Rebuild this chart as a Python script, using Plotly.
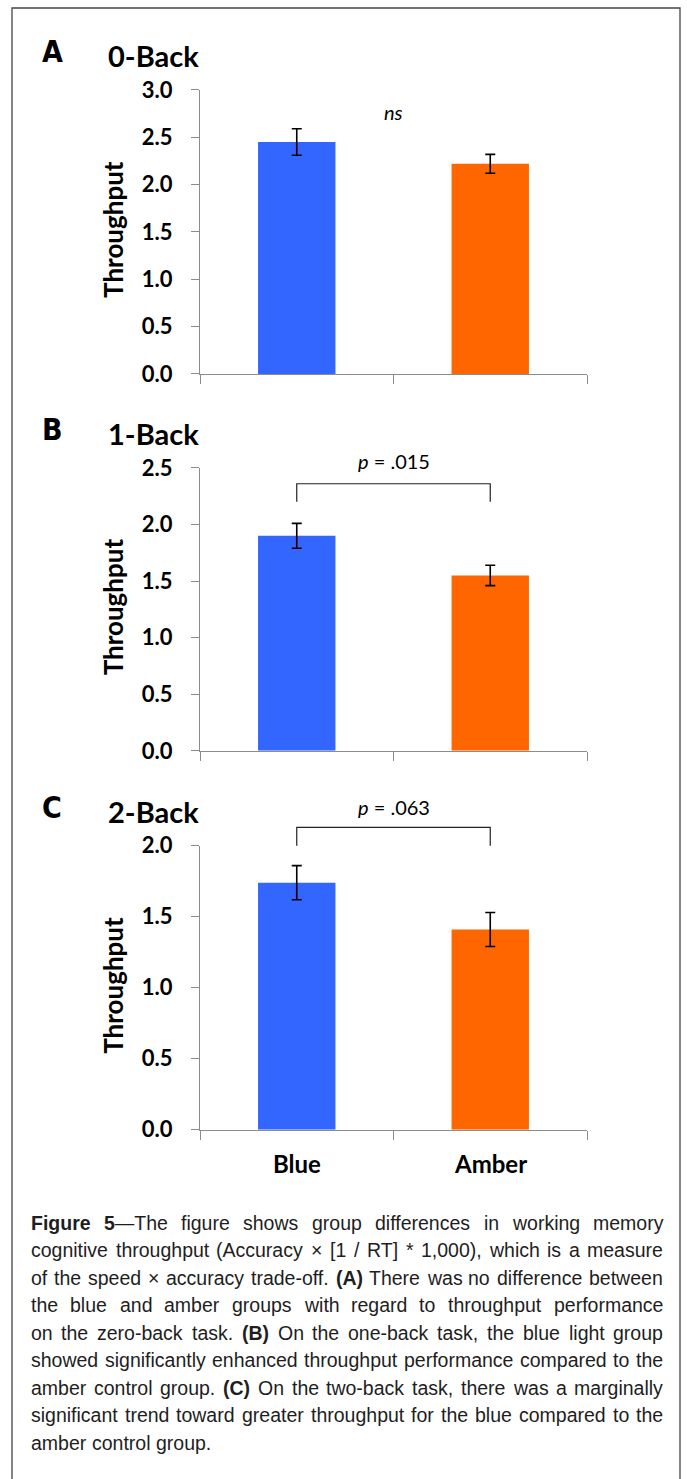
import plotly.graph_objects as go

groups = ["Blue", "Amber"]
bar_colors = ["#3366FF", "#FF6600"]

panels = ["A", "B", "C"]
titles = ["0-Back", "1-Back", "2-Back"]
y_max = [3.0, 2.5, 2.0]

means_0back = [2.45, 2.22]
err_0back = [0.14, 0.10]
means_1back = [1.90, 1.55]
err_1back = [0.11, 0.09]
means_2back = [1.74, 1.41]
err_2back = [0.12, 0.12]

sig_labels = ["<i>ns</i>", "<i>p</i> = .015", "<i>p</i> = .063"]
sig_label_y = [2.77, 2.56, 2.27]
bracket_top = [None, 2.36, 2.13]
bracket_foot = [None, 2.20, 2.00]

caption_lines = [
    "<b>Figure 5</b>—The figure shows group differences in working memory",
    "cognitive throughput (Accuracy × [1 / RT] * 1,000), which is a measure",
    "of the speed × accuracy trade-off. <b>(A)</b> There was no difference between",
    "the blue and amber groups with regard to throughput performance",
    "on the zero-back task. <b>(B)</b> On the one-back task, the blue light group",
    "showed significantly enhanced throughput performance compared to the",
    "amber control group. <b>(C)</b> On the two-back task, there was a marginally",
    "significant trend toward greater throughput for the blue compared to the",
    "amber control group.",
]

W, H = 687, 1479
panel_px = [(89, 373), (467, 750), (845, 1129)]
x_px = (200, 587)

# the photographed page shows rows slightly compressed with an offset; compensate
SY, OY = 0.982, 13.0


def fy(p):
    return (p - OY) / SY


def px_x(p):
    return p / W


def px_y(p):
    return 1 - fy(p) / H


means = [means_0back, means_1back, means_2back]
errs = [err_0back, err_1back, err_2back]

fig = go.Figure()
FONT_BOLD = "Lato, Carlito, 'Open Sans', sans-serif"
NARROW = "'Liberation Sans Narrow', 'Arial Narrow', 'DejaVu Sans Condensed', 'Liberation Sans', sans-serif"
CAPTION = "'Liberation Sans', Arial, sans-serif"
anns = []
shapes = []

for i in range(3):
    xa = "x" if i == 0 else f"x{i+1}"
    ya = "y" if i == 0 else f"y{i+1}"
    fig.add_trace(go.Bar(
        x=[0, 1], y=means[i],
        marker=dict(color=bar_colors, line=dict(width=0)),
        error_y=dict(type="data", array=errs[i], color="black", thickness=1.6, width=5),
        xaxis=xa, yaxis=ya, showlegend=False, width=0.4,
    ))
    if bracket_top[i] is not None:
        xs = [0.25, 0.25, 0.75, 0.75]
        ys = [bracket_foot[i], bracket_top[i], bracket_top[i], bracket_foot[i]]
        path = "M " + " L ".join(f"{x},{y / y_max[i]}" for x, y in zip(xs, ys))
        shapes.append(dict(type="path", path=path,
                           xref=f"{xa} domain", yref=f"{ya} domain",
                           line=dict(color="#222222", width=1.2)))
    top, bot = panel_px[i]
    xkey = "xaxis" if i == 0 else f"xaxis{i+1}"
    ykey = "yaxis" if i == 0 else f"yaxis{i+1}"
    fig.update_layout(**{
        xkey: dict(
            domain=[px_x(x_px[0]), px_x(x_px[1])], range=[-0.5, 1.5],
            anchor=ya, showgrid=False, zeroline=False,
            showline=True, linecolor="#8c8c8c", linewidth=1.2,
            tickmode="array", tickvals=[-0.5, 0.5, 1.5], ticktext=["", "", ""],
            ticks="outside", ticklen=9, tickcolor="#8c8c8c", tickwidth=1.2,
            fixedrange=True,
        ),
        ykey: dict(
            domain=[px_y(bot), px_y(top)], range=[0, y_max[i]],
            anchor=xa, showgrid=False, zeroline=False,
            showline=True, linecolor="#8c8c8c", linewidth=1.2,
            dtick=0.5, tick0=0, tickformat=".1f",
            ticks="outside", ticklen=8, tickcolor="#8c8c8c", tickwidth=1.2,
            tickfont=dict(family=FONT_BOLD, size=22, color="black", weight="bold"),
            ticklabelstandoff=14,
            fixedrange=True,
        ),
    })
    anns.append(dict(
        text="<b>Throughput</b>", textangle=-90, xref="paper", yref="paper",
        x=px_x(113), y=px_y((top + bot) / 2 - 2), showarrow=False,
        font=dict(family=FONT_BOLD, size=26, color="black"),
        xanchor="center", yanchor="middle",
    ))
    anns.append(dict(
        text="<b>" + panels[i] + "</b>", xref="paper", yref="paper",
        x=px_x(52), y=px_y(top - 38), showarrow=False,
        font=dict(family=NARROW, size=30, color="black"),
        xanchor="center", yanchor="middle",
    ))
    anns.append(dict(
        text="<b>" + titles[i] + "</b>", xref="paper", yref="paper",
        x=px_x(106), y=px_y(top - 34), showarrow=False,
        font=dict(family=FONT_BOLD, size=29, color="black"),
        xanchor="left", yanchor="middle",
    ))
    anns.append(dict(
        text=sig_labels[i], xref=f"{xa} domain", yref=f"{ya} domain",
        x=0.5, y=sig_label_y[i] / y_max[i],
        showarrow=False, font=dict(family="Lato, 'Open Sans', sans-serif", size=20, color="black"),
        xanchor="center", yanchor="middle",
    ))

for j, g in enumerate(groups):
    anns.append(dict(
        text="<b>" + g + "</b>", xref="x3", yref="paper", x=j, y=px_y(1163),
        showarrow=False, font=dict(family=FONT_BOLD, size=24, color="black"),
        xanchor="center", yanchor="middle",
    ))

# ---- justified caption (Liberation Sans is metric-compatible with Arial) ----
ARIAL = {" ": 278, "(": 333, ")": 333, "*": 389, ",": 278, "-": 333, ".": 278, "/": 278,
         "[": 278, "]": 278, "×": 584, "—": 1000, "=": 584,
         "A": 667, "B": 667, "C": 722, "D": 722, "E": 667, "F": 611, "G": 778, "H": 722,
         "I": 278, "J": 500, "K": 667, "L": 556, "M": 833, "N": 722, "O": 778, "P": 667,
         "Q": 778, "R": 722, "S": 667, "T": 611, "U": 722, "V": 667, "W": 944, "X": 667,
         "Y": 667, "Z": 611,
         "a": 556, "b": 556, "c": 500, "d": 556, "e": 556, "f": 278, "g": 556, "h": 556,
         "i": 222, "j": 222, "k": 500, "l": 222, "m": 833, "n": 556, "o": 556, "p": 556,
         "q": 556, "r": 333, "s": 500, "t": 278, "u": 556, "v": 500, "w": 722, "x": 500,
         "y": 500, "z": 500}
ARIAL_BOLD = {" ": 278, "(": 333, ")": 333, "A": 722, "B": 722, "C": 722, "F": 611,
              "i": 278, "g": 611, "u": 611, "r": 389, "e": 556}
CAP_SIZE = 19.5
CAP_LEFT, CAP_RIGHT = 32, 664


def char_w(c, bold):
    if c.isdigit():
        return 556
    table = ARIAL_BOLD if bold else ARIAL
    return table.get(c, ARIAL.get(c, 556))


def parse(line):
    out, bold, k = [], False, 0
    while k < len(line):
        if line.startswith("<b>", k):
            bold, k = True, k + 3
        elif line.startswith("</b>", k):
            bold, k = False, k + 4
        else:
            out.append((line[k], bold))
            k += 1
    return out


def words_of(chars):
    words, cur = [], []
    for c, b in chars:
        if c == " ":
            if cur:
                words.append(cur)
            cur = []
        else:
            cur.append((c, b))
    if cur:
        words.append(cur)
    return words


def word_html(word):
    html, k = "", 0
    while k < len(word):
        b = word[k][1]
        seg = ""
        while k < len(word) and word[k][1] == b:
            seg += word[k][0]
            k += 1
        html += f"<b>{seg}</b>" if b else seg
    return html


cap_top = 1222
cap_step = 27.5
space_px = ARIAL[" "] * CAP_SIZE / 1000
for li, line in enumerate(caption_lines):
    words = words_of(parse(line))
    widths = [sum(char_w(c, b) for c, b in w) * CAP_SIZE / 1000 for w in words]
    last = li == len(caption_lines) - 1
    if last or len(words) < 2:
        gap = space_px
    else:
        gap = (CAP_RIGHT - CAP_LEFT - sum(widths)) / (len(words) - 1)
    xpos = CAP_LEFT
    yv = px_y(cap_top + li * cap_step)
    for w, wd in zip(words, widths):
        anns.append(dict(
            text=word_html(w), xref="paper", yref="paper", x=px_x(xpos - 1), y=yv,
            showarrow=False, xanchor="left", yanchor="middle", align="left",
            borderpad=0, borderwidth=0,
            font=dict(family=CAPTION, size=CAP_SIZE, color="#1e1e1e"),
        ))
        xpos += wd + gap

shapes.append(dict(type="rect", xref="paper", yref="paper",
                   x0=px_x(12), x1=px_x(680), y0=px_y(1500), y1=px_y(7),
                   line=dict(color="#444444", width=1.3), fillcolor="rgba(0,0,0,0)"))

fig.update_layout(
    width=W, height=H, margin=dict(l=0, r=0, t=0, b=0),
    paper_bgcolor="white", plot_bgcolor="white",
    annotations=anns, shapes=shapes, bargap=0.6,
)

post = (
    "document.documentElement.style.margin='0';"
    "document.body.style.margin='0';"
    "document.body.style.overflow='hidden';"
)

fig.write_html("out.html", config={"displayModeBar": False}, post_script=post)
